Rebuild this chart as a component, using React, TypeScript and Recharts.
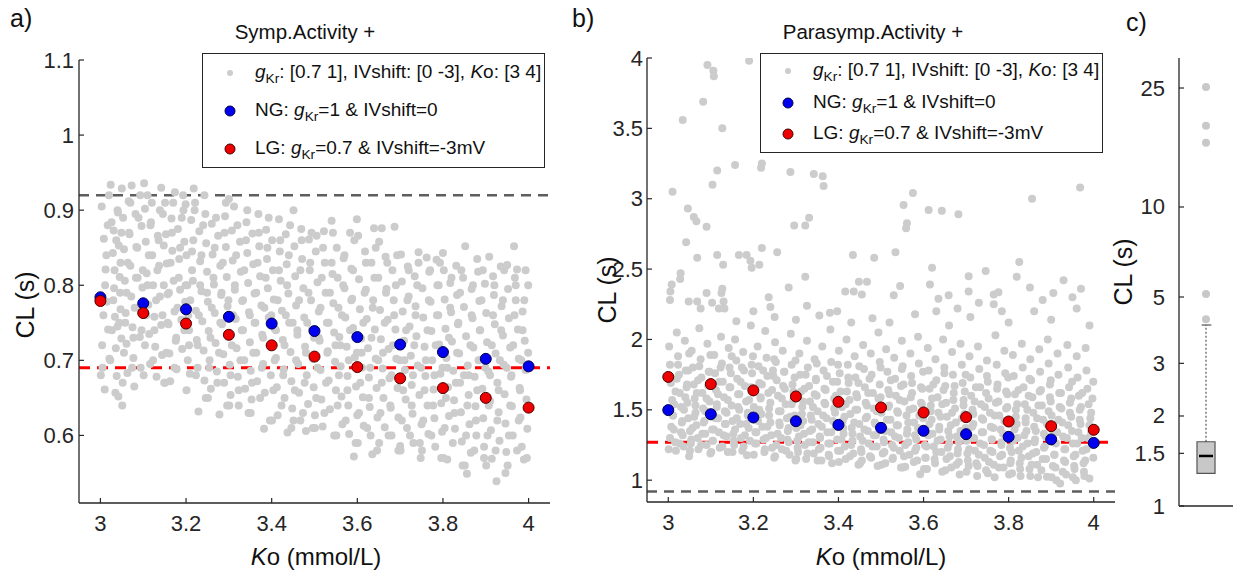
import React from 'react';
import { ScatterChart, Scatter, XAxis, YAxis, ReferenceLine, ReferenceArea } from 'recharts';

const FONT = '"Liberation Sans", Arial, Helvetica, sans-serif';
const AX = '#262626';

// ---------- data ----------
const koLevels = [3, 3.1, 3.2, 3.3, 3.4, 3.5, 3.6, 3.7, 3.8, 3.9, 4];
const ngSymp = [0.784, 0.776, 0.768, 0.758, 0.749, 0.739, 0.731, 0.721, 0.711, 0.702, 0.692];
const lgSymp = [0.779, 0.763, 0.749, 0.734, 0.72, 0.705, 0.691, 0.676, 0.663, 0.65, 0.637];
const ngPara = [1.498, 1.469, 1.446, 1.419, 1.393, 1.372, 1.351, 1.327, 1.308, 1.29, 1.265];
const lgPara = [1.734, 1.683, 1.638, 1.595, 1.557, 1.517, 1.481, 1.448, 1.417, 1.384, 1.358];

const sympUpperLine = 0.92;
const sympLowerLine = 0.69;
const paraUpperLine = 1.27;
const paraLowerLine = 0.92;

const xTicks = [3, 3.2, 3.4, 3.6, 3.8, 4];
const yTicksSymp = [0.6, 0.7, 0.8, 0.9, 1, 1.1];
const yTicksPara = [1, 1.5, 2, 2.5, 3, 3.5, 4];
const yTicksBox = [1, 1.5, 2, 3, 5, 10, 25];

const boxQ1 = 1.286;
const boxMedian = 1.47;
const boxQ3 = 1.64;
const boxWhiskerTop = 4.03;
const boxOutliers = [4.21, 5.12, 16.4, 18.7, 25.2];

const greySymp: [number, number][] = [
  [3.003,0.905],[3.008,0.862],[3.012,0.821],[3.015,0.778],[3.018,0.741],[3.021,0.702],[3.024,0.934],[3.026,0.884],[3.029,0.843],[3.032,0.796],[3.034,0.758],[3.036,0.716],[3.038,0.679],[3.041,0.897],[3.043,0.853],[3.045,0.811],[3.047,0.768],[3.049,0.729],[3.005,0.69],[3.01,0.661],[3.031,0.873],[3.04,0.745],[3.046,0.79],[3.035,0.657],[3.042,0.652],
  [3.05,0.929],[3.053,0.89],[3.055,0.848],[3.057,0.806],[3.059,0.763],[3.061,0.722],[3.063,0.683],[3.051,0.64],[3.066,0.912],[3.068,0.868],[3.07,0.826],[3.072,0.785],[3.073,0.933],[3.075,0.744],[3.077,0.703],[3.079,0.665],[3.082,0.895],[3.084,0.851],[3.087,0.81],[3.089,0.77],[3.092,0.731],[3.094,0.69],[3.096,0.879],[3.098,0.797],
  [3.102,0.936],[3.104,0.902],[3.106,0.858],[3.108,0.816],[3.11,0.92],[3.112,0.774],[3.114,0.735],[3.116,0.695],[3.118,0.884],[3.121,0.84],[3.123,0.8],[3.126,0.758],[3.128,0.718],[3.131,0.678],[3.134,0.866],[3.137,0.826],[3.139,0.785],[3.142,0.747],[3.144,0.707],[3.146,0.895],[3.148,0.853],[3.149,0.67],
  [3.151,0.91],[3.153,0.868],[3.155,0.829],[3.157,0.788],[3.159,0.748],[3.161,0.709],[3.163,0.672],[3.166,0.889],[3.168,0.846],[3.171,0.806],[3.173,0.765],[3.174,0.924],[3.176,0.726],[3.178,0.688],[3.181,0.875],[3.184,0.835],[3.186,0.794],[3.189,0.754],[3.191,0.715],[3.194,0.9],[3.196,0.858],[3.198,0.778],[3.199,0.908],
  [3.201,0.84],[3.203,0.8],[3.205,0.76],[3.207,0.72],[3.209,0.682],[3.212,0.887],[3.214,0.845],[3.216,0.806],[3.218,0.929],[3.221,0.91],[3.223,0.766],[3.225,0.727],[3.227,0.69],[3.229,0.632],[3.231,0.872],[3.233,0.832],[3.236,0.792],[3.238,0.752],[3.241,0.713],[3.243,0.673],[3.245,0.895],[3.247,0.856],[3.249,0.818],
  [3.251,0.778],[3.253,0.739],[3.255,0.7],[3.258,0.662],[3.26,0.882],[3.262,0.841],[3.265,0.801],[3.267,0.763],[3.269,0.723],[3.272,0.685],[3.275,0.866],[3.278,0.628],[3.28,0.826],[3.282,0.787],[3.284,0.748],[3.287,0.708],[3.289,0.67],[3.291,0.892],[3.293,0.851],[3.295,0.811],[3.297,0.772],[3.299,0.733],
  [3.3,0.915],[3.302,0.694],[3.304,0.654],[3.307,0.873],[3.309,0.833],[3.312,0.905],[3.314,0.794],[3.316,0.755],[3.318,0.716],[3.321,0.678],[3.323,0.64],[3.326,0.858],[3.328,0.818],[3.331,0.779],[3.333,0.74],[3.336,0.7],[3.338,0.662],[3.341,0.884],[3.343,0.843],[3.345,0.803],[3.347,0.764],[3.349,0.724],
  [3.351,0.686],[3.353,0.648],[3.355,0.869],[3.357,0.828],[3.36,0.789],[3.362,0.75],[3.364,0.71],[3.366,0.672],[3.369,0.895],[3.371,0.852],[3.373,0.812],[3.376,0.773],[3.378,0.734],[3.38,0.695],[3.382,0.609],[3.384,0.657],[3.387,0.874],[3.389,0.835],[3.391,0.796],[3.393,0.757],[3.396,0.718],[3.398,0.68],
  [3.401,0.86],[3.403,0.82],[3.405,0.781],[3.407,0.742],[3.41,0.703],[3.412,0.664],[3.414,0.627],[3.417,0.888],[3.419,0.845],[3.421,0.806],[3.424,0.766],[3.426,0.727],[3.428,0.688],[3.43,0.65],[3.433,0.868],[3.435,0.828],[3.437,0.604],[3.439,0.789],[3.441,0.75],[3.444,0.711],[3.446,0.672],[3.448,0.636],
  [3.451,0.9],[3.453,0.852],[3.455,0.812],[3.457,0.773],[3.46,0.734],[3.462,0.695],[3.464,0.657],[3.467,0.62],[3.469,0.875],[3.471,0.835],[3.474,0.796],[3.476,0.757],[3.478,0.718],[3.48,0.606],[3.482,0.68],[3.485,0.642],[3.487,0.861],[3.489,0.82],[3.492,0.78],[3.494,0.741],[3.496,0.702],[3.498,0.664],
  [3.501,0.627],[3.503,0.845],[3.505,0.866],[3.507,0.804],[3.51,0.765],[3.512,0.726],[3.514,0.687],[3.516,0.648],[3.519,0.612],[3.522,0.872],[3.524,0.83],[3.526,0.79],[3.529,0.75],[3.531,0.712],[3.533,0.673],[3.536,0.635],[3.54,0.886],[3.542,0.815],[3.544,0.776],[3.546,0.737],[3.548,0.698],[3.55,0.66],
  [3.552,0.85],[3.554,0.81],[3.556,0.77],[3.558,0.731],[3.561,0.692],[3.563,0.652],[3.565,0.615],[3.568,0.836],[3.57,0.796],[3.572,0.757],[3.575,0.718],[3.577,0.679],[3.579,0.64],[3.581,0.602],[3.583,0.87],[3.586,0.822],[3.588,0.782],[3.59,0.743],[3.592,0.572],[3.594,0.704],[3.597,0.665],[3.599,0.888],[3.6,0.627],
  [3.602,0.866],[3.604,0.808],[3.606,0.768],[3.609,0.729],[3.611,0.69],[3.613,0.651],[3.615,0.613],[3.618,0.845],[3.62,0.794],[3.622,0.755],[3.625,0.716],[3.627,0.677],[3.629,0.638],[3.631,0.6],[3.633,0.83],[3.635,0.575],[3.637,0.78],[3.639,0.876],[3.641,0.741],[3.643,0.702],[3.645,0.663],[3.647,0.624],[3.649,0.81],
  [3.651,0.858],[3.653,0.767],[3.655,0.728],[3.657,0.876],[3.659,0.689],[3.661,0.65],[3.664,0.611],[3.666,0.838],[3.668,0.795],[3.671,0.754],[3.673,0.715],[3.675,0.676],[3.678,0.637],[3.68,0.6],[3.682,0.82],[3.685,0.78],[3.687,0.878],[3.689,0.741],[3.691,0.702],[3.694,0.663],[3.696,0.624],[3.7,0.586],
  [3.702,0.841],[3.704,0.805],[3.706,0.765],[3.709,0.726],[3.711,0.687],[3.713,0.648],[3.716,0.61],[3.718,0.825],[3.72,0.785],[3.722,0.745],[3.725,0.706],[3.727,0.667],[3.729,0.629],[3.731,0.59],[3.734,0.812],[3.736,0.772],[3.738,0.732],[3.741,0.693],[3.743,0.844],[3.745,0.654],[3.748,0.57],[3.75,0.615],
  [3.752,0.796],[3.754,0.757],[3.757,0.718],[3.759,0.679],[3.762,0.837],[3.764,0.64],[3.766,0.602],[3.768,0.818],[3.771,0.778],[3.773,0.739],[3.775,0.7],[3.778,0.661],[3.78,0.623],[3.782,0.585],[3.785,0.834],[3.787,0.8],[3.789,0.76],[3.791,0.721],[3.794,0.682],[3.796,0.643],[3.798,0.605],[3.8,0.843],
  [3.802,0.82],[3.804,0.781],[3.806,0.742],[3.808,0.703],[3.81,0.568],[3.812,0.664],[3.814,0.626],[3.817,0.803],[3.819,0.764],[3.821,0.725],[3.824,0.686],[3.826,0.647],[3.828,0.609],[3.831,0.826],[3.833,0.787],[3.835,0.748],[3.838,0.709],[3.84,0.67],[3.842,0.631],[3.844,0.592],[3.847,0.81],[3.849,0.771],
  [3.852,0.852],[3.854,0.732],[3.856,0.549],[3.858,0.693],[3.86,0.654],[3.862,0.615],[3.865,0.577],[3.867,0.795],[3.869,0.756],[3.871,0.717],[3.874,0.678],[3.876,0.639],[3.878,0.6],[3.88,0.835],[3.882,0.818],[3.885,0.779],[3.887,0.74],[3.889,0.701],[3.892,0.662],[3.894,0.623],[3.896,0.585],[3.898,0.802],
  [3.901,0.763],[3.903,0.724],[3.906,0.685],[3.908,0.838],[3.91,0.646],[3.912,0.607],[3.914,0.569],[3.917,0.812],[3.919,0.787],[3.921,0.748],[3.923,0.709],[3.925,0.539],[3.927,0.67],[3.93,0.631],[3.932,0.593],[3.935,0.825],[3.937,0.772],[3.94,0.733],[3.942,0.694],[3.944,0.655],[3.946,0.616],[3.948,0.578],
  [3.95,0.827],[3.952,0.795],[3.954,0.756],[3.957,0.717],[3.959,0.678],[3.961,0.639],[3.963,0.6],[3.966,0.852],[3.968,0.81],[3.97,0.78],[3.973,0.821],[3.975,0.741],[3.977,0.702],[3.979,0.663],[3.981,0.624],[3.984,0.585],[3.986,0.765],[3.989,0.568],[3.991,0.726],[3.993,0.687],[3.995,0.648],[3.997,0.609],[3.999,0.8],
];

const greySympFill: [number, number][] = [
  [3.001,0.68],[3.004,0.72],[3.007,0.76],[3.011,0.8],[3.014,0.84],[3.017,0.88],[3.02,0.92],[3.023,0.7],[3.027,0.74],[3.03,0.78],[3.033,0.82],[3.037,0.86],[3.04,0.9],[3.044,0.75],[3.047,0.83],[3.049,0.87],
  [3.052,0.67],[3.055,0.71],[3.058,0.75],[3.061,0.79],[3.064,0.83],[3.067,0.87],[3.07,0.91],[3.074,0.69],[3.077,0.73],[3.08,0.77],[3.083,0.81],[3.086,0.85],[3.089,0.89],[3.093,0.92],[3.096,0.74],[3.099,0.82],
  [3.101,0.68],[3.104,0.72],[3.107,0.76],[3.11,0.8],[3.113,0.84],[3.117,0.88],[3.12,0.91],[3.123,0.7],[3.126,0.74],[3.13,0.78],[3.133,0.82],[3.136,0.86],[3.139,0.9],[3.142,0.93],[3.145,0.76],[3.148,0.8],
  [3.151,0.67],[3.154,0.71],[3.157,0.75],[3.16,0.79],[3.164,0.83],[3.167,0.87],[3.17,0.91],[3.173,0.69],[3.177,0.73],[3.18,0.77],[3.183,0.81],[3.186,0.85],[3.19,0.89],[3.193,0.92],[3.196,0.74],[3.199,0.8],
  [3.201,0.66],[3.204,0.7],[3.207,0.74],[3.21,0.78],[3.214,0.82],[3.217,0.86],[3.22,0.9],[3.223,0.68],[3.227,0.72],[3.23,0.76],[3.233,0.8],[3.236,0.84],[3.24,0.88],[3.243,0.92],[3.246,0.65],[3.249,0.79],
  [3.251,0.65],[3.254,0.69],[3.257,0.73],[3.26,0.77],[3.264,0.81],[3.267,0.85],[3.27,0.89],[3.273,0.67],[3.277,0.71],[3.28,0.75],[3.283,0.79],[3.286,0.83],[3.29,0.87],[3.293,0.91],[3.296,0.64],[3.299,0.78],
  [3.301,0.64],[3.304,0.68],[3.307,0.72],[3.31,0.76],[3.314,0.8],[3.317,0.84],[3.32,0.88],[3.323,0.66],[3.327,0.7],[3.33,0.74],[3.333,0.78],[3.336,0.82],[3.34,0.86],[3.343,0.9],[3.346,0.63],[3.349,0.76],
  [3.351,0.63],[3.354,0.67],[3.357,0.71],[3.36,0.75],[3.364,0.79],[3.367,0.83],[3.37,0.87],[3.373,0.65],[3.377,0.69],[3.38,0.73],[3.383,0.77],[3.386,0.81],[3.39,0.85],[3.393,0.89],[3.396,0.62],[3.399,0.76],
  [3.401,0.62],[3.404,0.66],[3.407,0.7],[3.41,0.74],[3.414,0.78],[3.417,0.82],[3.42,0.86],[3.423,0.64],[3.427,0.68],[3.43,0.72],[3.433,0.76],[3.436,0.8],[3.44,0.84],[3.443,0.88],[3.446,0.61],[3.449,0.75],
  [3.451,0.62],[3.454,0.66],[3.457,0.7],[3.46,0.74],[3.464,0.78],[3.467,0.82],[3.47,0.86],[3.473,0.63],[3.477,0.67],[3.48,0.71],[3.483,0.75],[3.486,0.79],[3.49,0.83],[3.493,0.87],[3.496,0.61],[3.499,0.73],
  [3.501,0.61],[3.504,0.65],[3.507,0.69],[3.51,0.73],[3.514,0.77],[3.517,0.81],[3.52,0.85],[3.523,0.63],[3.527,0.67],[3.53,0.71],[3.533,0.75],[3.536,0.79],[3.54,0.83],[3.543,0.87],[3.546,0.6],[3.549,0.72],
  [3.551,0.6],[3.554,0.64],[3.557,0.68],[3.56,0.72],[3.564,0.76],[3.567,0.8],[3.57,0.84],[3.573,0.62],[3.577,0.66],[3.58,0.7],[3.583,0.74],[3.586,0.78],[3.59,0.82],[3.593,0.86],[3.596,0.59],[3.599,0.71],
  [3.601,0.59],[3.604,0.63],[3.607,0.67],[3.61,0.71],[3.614,0.75],[3.617,0.79],[3.62,0.83],[3.623,0.61],[3.627,0.65],[3.63,0.69],[3.633,0.73],[3.636,0.77],[3.64,0.81],[3.643,0.85],[3.646,0.58],[3.649,0.7],
  [3.651,0.59],[3.654,0.63],[3.657,0.67],[3.66,0.71],[3.664,0.75],[3.667,0.79],[3.67,0.83],[3.673,0.6],[3.677,0.64],[3.68,0.68],[3.683,0.72],[3.686,0.76],[3.69,0.8],[3.693,0.84],[3.696,0.58],[3.699,0.7],
  [3.701,0.58],[3.704,0.62],[3.707,0.66],[3.71,0.7],[3.714,0.74],[3.717,0.78],[3.72,0.82],[3.723,0.6],[3.727,0.64],[3.73,0.68],[3.733,0.72],[3.736,0.76],[3.74,0.8],[3.743,0.83],[3.746,0.59],[3.749,0.69],
  [3.751,0.58],[3.754,0.62],[3.757,0.66],[3.76,0.7],[3.764,0.74],[3.767,0.78],[3.77,0.82],[3.773,0.6],[3.777,0.64],[3.78,0.68],[3.783,0.72],[3.786,0.76],[3.79,0.8],[3.793,0.83],[3.796,0.57],[3.799,0.69],
  [3.801,0.57],[3.804,0.61],[3.807,0.65],[3.81,0.69],[3.814,0.73],[3.817,0.77],[3.82,0.81],[3.823,0.59],[3.827,0.63],[3.83,0.67],[3.833,0.71],[3.836,0.75],[3.84,0.79],[3.843,0.82],[3.846,0.56],[3.849,0.68],
  [3.851,0.56],[3.854,0.6],[3.857,0.64],[3.86,0.68],[3.864,0.72],[3.867,0.76],[3.87,0.8],[3.873,0.58],[3.877,0.62],[3.88,0.66],[3.883,0.7],[3.886,0.74],[3.89,0.78],[3.893,0.82],[3.896,0.57],[3.899,0.69],
  [3.901,0.56],[3.904,0.6],[3.907,0.64],[3.91,0.68],[3.914,0.72],[3.917,0.76],[3.92,0.8],[3.923,0.58],[3.927,0.62],[3.93,0.66],[3.933,0.7],[3.936,0.74],[3.94,0.78],[3.943,0.82],[3.946,0.55],[3.949,0.69],
  [3.951,0.56],[3.954,0.6],[3.957,0.64],[3.96,0.68],[3.964,0.72],[3.967,0.76],[3.97,0.8],[3.973,0.58],[3.977,0.62],[3.98,0.66],[3.983,0.7],[3.986,0.74],[3.99,0.78],[3.993,0.82],[3.996,0.57],[3.999,0.71],
];

const greyParaBand: [number, number][] = [
  [3.002,1.95],[3.004,1.82],[3.006,1.69],[3.009,1.57],[3.011,1.46],[3.013,1.36],[3.016,1.27],[3.018,1.21],[3.02,2.05],[3.023,1.88],[3.025,1.75],[3.027,1.62],[3.03,1.52],[3.032,1.41],[3.034,1.32],[3.036,1.24],[3.039,1.99],[3.041,1.78],[3.043,1.66],[3.045,1.55],[3.047,1.44],[3.049,1.17],
  [3.051,1.35],[3.053,1.26],[3.055,1.92],[3.058,1.8],[3.06,1.68],[3.062,1.58],[3.064,1.48],[3.066,1.39],[3.069,1.3],[3.071,1.22],[3.073,2.08],[3.076,1.86],[3.078,1.73],[3.08,1.62],[3.082,1.51],[3.085,1.42],[3.087,1.33],[3.09,1.25],[3.092,1.97],[3.095,1.77],[3.097,1.56],[3.099,1.19],
  [3.101,1.45],[3.103,1.36],[3.105,1.28],[3.108,1.89],[3.11,1.76],[3.112,1.64],[3.114,1.54],[3.117,1.44],[3.119,1.34],[3.121,1.23],[3.124,2.02],[3.126,1.83],[3.128,1.7],[3.131,1.59],[3.133,1.49],[3.135,1.4],[3.137,1.31],[3.14,1.2],[3.142,1.94],[3.144,1.8],[3.146,1.66],[3.149,1.53],
  [3.151,1.42],[3.153,1.33],[3.155,1.25],[3.157,2.0],[3.16,1.85],[3.162,1.72],[3.164,1.61],[3.167,1.5],[3.169,1.4],[3.171,1.3],[3.174,1.21],[3.176,1.91],[3.178,1.78],[3.18,1.67],[3.183,1.56],[3.185,1.178],[3.187,1.46],[3.189,1.37],[3.192,1.28],[3.194,2.1],[3.196,1.82],[3.198,1.63],
  [3.201,1.52],[3.203,1.43],[3.205,1.34],[3.207,1.26],[3.21,1.95],[3.212,1.81],[3.214,1.69],[3.217,1.58],[3.219,1.47],[3.221,1.38],[3.224,1.29],[3.226,1.2],[3.228,2.06],[3.231,1.87],[3.233,1.74],[3.235,1.62],[3.237,1.51],[3.24,1.41],[3.242,1.32],[3.244,1.23],[3.246,1.78],[3.249,1.16],
  [3.251,1.98],[3.253,1.84],[3.255,1.71],[3.258,1.6],[3.26,1.49],[3.262,1.39],[3.265,1.3],[3.267,1.22],[3.269,1.92],[3.272,1.77],[3.274,1.65],[3.276,1.54],[3.279,1.44],[3.281,1.35],[3.283,1.27],[3.285,1.18],[3.288,2.04],[3.29,1.82],[3.292,1.68],[3.294,1.57],[3.297,1.46],[3.299,1.14],
  [3.301,1.37],[3.303,1.28],[3.305,1.2],[3.308,1.9],[3.31,1.75],[3.312,1.63],[3.315,1.52],[3.317,1.42],[3.319,1.33],[3.321,1.25],[3.324,1.15],[3.326,1.99],[3.328,1.8],[3.331,1.67],[3.333,1.56],[3.335,1.46],[3.338,1.36],[3.34,1.27],[3.342,1.19],[3.344,1.86],[3.347,1.72],[3.349,1.6],
  [3.351,1.49],[3.353,1.4],[3.356,1.31],[3.358,1.23],[3.36,1.14],[3.362,1.95],[3.365,1.78],[3.367,1.65],[3.369,1.54],[3.372,1.44],[3.374,1.34],[3.376,1.26],[3.378,1.17],[3.381,2.07],[3.383,1.84],[3.385,1.12],[3.387,1.7],[3.39,1.58],[3.392,1.48],[3.394,1.38],[3.397,1.29],[3.399,1.21],
  [3.401,1.92],[3.403,1.76],[3.405,1.63],[3.408,1.52],[3.41,1.42],[3.412,1.33],[3.415,1.24],[3.417,1.15],[3.419,2.0],[3.422,1.82],[3.424,1.69],[3.426,1.57],[3.428,1.47],[3.431,1.37],[3.433,1.28],[3.435,1.19],[3.438,1.88],[3.44,1.73],[3.442,1.61],[3.444,1.5],[3.447,1.11],[3.449,1.4],
  [3.451,1.31],[3.453,1.22],[3.455,1.14],[3.458,1.96],[3.46,1.79],[3.462,1.66],[3.464,1.55],[3.467,1.45],[3.469,1.35],[3.471,1.26],[3.474,1.17],[3.476,1.9],[3.478,1.75],[3.481,1.62],[3.483,1.51],[3.485,1.41],[3.488,1.32],[3.49,1.24],[3.492,1.1],[3.494,2.05],[3.497,1.84],[3.499,1.59],
  [3.501,1.48],[3.503,1.38],[3.506,1.29],[3.508,1.2],[3.51,1.12],[3.512,1.93],[3.515,1.77],[3.517,1.64],[3.519,1.53],[3.522,1.43],[3.524,1.34],[3.526,1.25],[3.528,1.16],[3.531,1.87],[3.533,1.72],[3.535,1.6],[3.538,1.49],[3.54,1.39],[3.542,1.3],[3.544,1.21],[3.547,1.09],[3.549,1.99],
  [3.551,1.81],[3.553,1.68],[3.555,1.56],[3.557,1.095],[3.56,1.46],[3.562,1.36],[3.564,1.27],[3.567,1.18],[3.569,1.9],[3.571,1.74],[3.573,1.62],[3.576,1.51],[3.578,1.41],[3.58,1.32],[3.583,1.23],[3.585,1.14],[3.587,2.02],[3.589,1.83],[3.592,1.043],[3.594,1.66],[3.596,1.54],[3.599,1.44],
  [3.601,1.34],[3.603,1.25],[3.605,1.16],[3.608,1.08],[3.61,1.94],[3.612,1.78],[3.614,1.65],[3.617,1.53],[3.619,1.43],[3.621,1.33],[3.624,1.24],[3.626,1.15],[3.628,1.86],[3.63,1.71],[3.633,1.59],[3.635,1.48],[3.637,1.38],[3.64,1.29],[3.642,1.2],[3.644,1.06],[3.646,2.0],[3.649,1.8],
  [3.651,1.67],[3.653,1.55],[3.655,1.45],[3.658,1.35],[3.66,1.26],[3.662,1.17],[3.665,1.09],[3.667,1.91],[3.669,1.75],[3.671,1.62],[3.674,1.51],[3.676,1.41],[3.678,1.31],[3.681,1.22],[3.683,1.13],[3.685,1.04],[3.687,1.97],[3.69,1.82],[3.692,1.69],[3.694,1.57],[3.696,1.47],[3.699,1.37],
  [3.701,1.28],[3.703,1.19],[3.706,1.1],[3.708,1.88],[3.71,1.73],[3.712,1.6],[3.715,1.5],[3.717,1.4],[3.719,1.3],[3.721,1.21],[3.724,1.12],[3.726,1.03],[3.728,1.95],[3.731,1.79],[3.733,1.66],[3.735,1.54],[3.737,1.44],[3.74,1.34],[3.742,1.25],[3.744,1.16],[3.747,1.07],[3.749,1.85],
  [3.751,1.7],[3.753,1.58],[3.756,1.48],[3.758,1.38],[3.76,1.29],[3.762,1.2],[3.765,1.11],[3.767,1.02],[3.769,2.03],[3.772,1.82],[3.774,1.68],[3.776,1.56],[3.778,1.46],[3.781,1.36],[3.783,1.27],[3.785,1.18],[3.788,1.09],[3.79,1.92],[3.792,1.76],[3.794,1.63],[3.797,1.52],[3.799,1.42],
  [3.801,1.32],[3.803,1.23],[3.805,1.14],[3.808,1.05],[3.81,1.89],[3.812,1.74],[3.815,1.61],[3.817,1.5],[3.819,1.4],[3.821,1.3],[3.824,1.21],[3.826,1.12],[3.828,1.03],[3.831,1.97],[3.833,1.8],[3.835,1.66],[3.838,1.54],[3.84,1.44],[3.842,1.35],[3.844,1.26],[3.847,1.17],[3.849,1.08],
  [3.851,1.86],[3.853,1.71],[3.856,1.59],[3.858,1.48],[3.86,1.38],[3.862,1.29],[3.865,1.2],[3.867,1.11],[3.869,1.02],[3.872,1.93],[3.874,1.77],[3.876,1.64],[3.878,1.53],[3.881,1.43],[3.883,1.33],[3.885,1.24],[3.888,1.15],[3.89,1.024],[3.892,2.0],[3.894,1.83],[3.897,1.68],[3.899,1.56],
  [3.901,1.46],[3.903,1.36],[3.906,1.27],[3.908,1.18],[3.91,1.09],[3.912,1.0],[3.915,1.9],[3.917,1.75],[3.919,1.62],[3.921,0.977],[3.924,1.51],[3.926,1.41],[3.928,1.31],[3.931,1.22],[3.933,1.13],[3.935,1.04],[3.938,1.96],[3.94,1.8],[3.942,1.66],[3.944,1.55],[3.947,1.45],[3.949,1.35],
  [3.951,1.26],[3.953,1.17],[3.955,1.08],[3.958,1.0],[3.96,1.88],[3.962,1.73],[3.965,1.6],[3.967,1.5],[3.969,1.4],[3.972,1.3],[3.974,1.21],[3.976,1.12],[3.978,1.03],[3.981,1.94],[3.983,1.78],[3.985,1.65],[3.988,1.54],[3.99,1.012],[3.992,1.44],[3.994,1.34],[3.997,1.25],[3.999,1.16],
];

const greyParaFill: [number, number][] = [
  [3.001,1.22],[3.004,1.3],[3.007,1.38],[3.011,1.46],[3.014,1.54],[3.017,1.63],[3.02,1.72],[3.023,1.82],[3.027,1.26],[3.03,1.34],[3.033,1.42],[3.037,1.5],[3.04,1.59],[3.044,1.68],[3.047,1.78],[3.049,1.9],
  [3.051,1.21],[3.054,1.29],[3.057,1.37],[3.061,1.45],[3.064,1.53],[3.067,1.62],[3.07,1.71],[3.073,1.81],[3.077,1.25],[3.08,1.33],[3.083,1.41],[3.087,1.49],[3.09,1.58],[3.094,1.67],[3.097,1.77],[3.099,1.89],
  [3.101,1.2],[3.104,1.28],[3.107,1.36],[3.111,1.44],[3.114,1.52],[3.117,1.61],[3.12,1.7],[3.123,1.8],[3.127,1.24],[3.13,1.32],[3.133,1.4],[3.137,1.48],[3.14,1.57],[3.144,1.66],[3.147,1.76],[3.149,1.88],
  [3.151,1.2],[3.154,1.28],[3.157,1.36],[3.161,1.44],[3.164,1.52],[3.167,1.61],[3.17,1.7],[3.173,1.8],[3.177,1.24],[3.18,1.32],[3.183,1.4],[3.187,1.48],[3.19,1.57],[3.194,1.66],[3.197,1.76],[3.199,1.88],
  [3.201,1.18],[3.204,1.26],[3.207,1.34],[3.211,1.42],[3.214,1.5],[3.217,1.59],[3.22,1.68],[3.223,1.78],[3.227,1.22],[3.23,1.3],[3.233,1.38],[3.237,1.46],[3.24,1.55],[3.244,1.64],[3.247,1.74],[3.249,1.86],
  [3.251,1.17],[3.254,1.25],[3.257,1.33],[3.261,1.41],[3.264,1.49],[3.267,1.58],[3.27,1.67],[3.273,1.77],[3.277,1.21],[3.28,1.29],[3.283,1.37],[3.287,1.45],[3.29,1.54],[3.294,1.63],[3.297,1.73],[3.299,1.85],
  [3.301,1.15],[3.304,1.23],[3.307,1.31],[3.311,1.39],[3.314,1.47],[3.317,1.56],[3.32,1.65],[3.323,1.75],[3.327,1.19],[3.33,1.27],[3.333,1.35],[3.337,1.43],[3.34,1.52],[3.344,1.61],[3.347,1.71],[3.349,1.83],
  [3.351,1.14],[3.354,1.22],[3.357,1.3],[3.361,1.38],[3.364,1.46],[3.367,1.55],[3.37,1.64],[3.373,1.74],[3.377,1.18],[3.38,1.26],[3.383,1.34],[3.387,1.42],[3.39,1.51],[3.394,1.6],[3.397,1.7],[3.399,1.82],
  [3.401,1.13],[3.404,1.21],[3.407,1.29],[3.411,1.37],[3.414,1.45],[3.417,1.54],[3.42,1.63],[3.423,1.73],[3.427,1.17],[3.43,1.25],[3.433,1.33],[3.437,1.41],[3.44,1.5],[3.444,1.59],[3.447,1.69],[3.449,1.81],
  [3.451,1.12],[3.454,1.2],[3.457,1.28],[3.461,1.36],[3.464,1.44],[3.467,1.53],[3.47,1.62],[3.473,1.72],[3.477,1.16],[3.48,1.24],[3.483,1.32],[3.487,1.4],[3.49,1.49],[3.494,1.58],[3.497,1.68],[3.499,1.8],
  [3.501,1.11],[3.504,1.19],[3.507,1.27],[3.511,1.35],[3.514,1.43],[3.517,1.52],[3.52,1.61],[3.523,1.71],[3.527,1.15],[3.53,1.23],[3.533,1.31],[3.537,1.39],[3.54,1.48],[3.544,1.57],[3.547,1.67],[3.549,1.79],
  [3.551,1.09],[3.554,1.17],[3.557,1.25],[3.561,1.33],[3.564,1.41],[3.567,1.5],[3.57,1.59],[3.573,1.69],[3.577,1.13],[3.58,1.21],[3.583,1.29],[3.587,1.37],[3.59,1.46],[3.594,1.55],[3.597,1.65],[3.599,1.77],
  [3.601,1.08],[3.604,1.16],[3.607,1.24],[3.611,1.32],[3.614,1.4],[3.617,1.49],[3.62,1.58],[3.623,1.68],[3.627,1.12],[3.63,1.2],[3.633,1.28],[3.637,1.36],[3.64,1.45],[3.644,1.54],[3.647,1.64],[3.649,1.76],
  [3.651,1.07],[3.654,1.15],[3.657,1.23],[3.661,1.31],[3.664,1.39],[3.667,1.48],[3.67,1.57],[3.673,1.67],[3.677,1.11],[3.68,1.19],[3.683,1.27],[3.687,1.35],[3.69,1.44],[3.694,1.53],[3.697,1.63],[3.699,1.75],
  [3.701,1.06],[3.704,1.14],[3.707,1.22],[3.711,1.3],[3.714,1.38],[3.717,1.47],[3.72,1.56],[3.723,1.66],[3.727,1.1],[3.73,1.18],[3.733,1.26],[3.737,1.34],[3.74,1.43],[3.744,1.52],[3.747,1.62],[3.749,1.74],
  [3.751,1.05],[3.754,1.13],[3.757,1.21],[3.761,1.29],[3.764,1.37],[3.767,1.46],[3.77,1.55],[3.773,1.65],[3.777,1.09],[3.78,1.17],[3.783,1.25],[3.787,1.33],[3.79,1.42],[3.794,1.51],[3.797,1.61],[3.799,1.73],
  [3.801,1.04],[3.804,1.12],[3.807,1.2],[3.811,1.28],[3.814,1.36],[3.817,1.45],[3.82,1.54],[3.823,1.64],[3.827,1.08],[3.83,1.16],[3.833,1.24],[3.837,1.32],[3.84,1.41],[3.844,1.5],[3.847,1.6],[3.849,1.72],
  [3.851,1.03],[3.854,1.11],[3.857,1.19],[3.861,1.27],[3.864,1.35],[3.867,1.44],[3.87,1.53],[3.873,1.63],[3.877,1.07],[3.88,1.15],[3.883,1.23],[3.887,1.31],[3.89,1.4],[3.894,1.49],[3.897,1.59],[3.899,1.71],
  [3.901,1.02],[3.904,1.1],[3.907,1.18],[3.911,1.26],[3.914,1.34],[3.917,1.43],[3.92,1.52],[3.923,1.62],[3.927,1.06],[3.93,1.14],[3.933,1.22],[3.937,1.3],[3.94,1.39],[3.944,1.48],[3.947,1.58],[3.949,1.7],
  [3.951,1.02],[3.954,1.1],[3.957,1.18],[3.961,1.26],[3.964,1.34],[3.967,1.43],[3.97,1.52],[3.973,1.62],[3.977,1.06],[3.98,1.14],[3.983,1.22],[3.987,1.3],[3.99,1.39],[3.994,1.48],[3.997,1.58],[3.999,1.7],
];

const greyParaHigh: [number, number][] = [
  [3.092,3.95],[3.106,3.91],[3.107,3.87],[3.19,3.98],[3.082,3.69],[3.034,3.56],[3.127,3.5],[3.157,3.24],[3.22,3.25],[3.218,3.22],[3.115,3.2],[3.287,3.19],[3.342,3.175],[3.363,3.16],[3.365,3.09],[3.104,3.1],[3.01,3.05],[3.046,2.93],[3.06,2.87],[3.066,2.84],[3.09,2.8],[3.296,2.81],[3.322,2.81],[3.331,2.865],[3.042,2.69],[3.553,2.955],[3.575,3.04],[3.561,2.825],[3.559,2.79],[3.612,2.92],[3.643,2.915],[3.682,2.89],[3.855,3.0],[3.968,3.08],
  [3.115,2.6],[3.129,2.53],[3.166,2.6],[3.184,2.6],[3.193,2.56],[3.196,2.51],[3.214,2.53],[3.22,2.65],[3.256,2.62],[3.068,2.58],[3.029,2.47],[3.434,2.6],[3.484,2.58],[3.534,2.62],[3.62,2.51],[3.746,2.486],[3.825,2.55],[3.819,2.445],[3.706,2.45],[3.929,2.42],[3.905,2.33],[3.322,2.445],[3.283,2.37],[3.448,2.41],[3.467,2.41],[3.416,2.34],[3.436,2.34],[3.455,2.32],[3.53,2.315],[3.545,2.38],[3.615,2.39],[3.635,2.29],[3.659,2.315],[3.706,2.34],[3.765,2.32],[3.776,2.335],[3.765,2.25],[3.784,2.2],
  [3.005,2.34],[3.008,2.39],[3.004,2.28],[3.028,2.43],[3.127,2.36],[3.125,2.33],[3.13,2.27],[3.132,2.22],[3.048,2.27],[3.068,2.27],[3.076,2.22],[3.09,2.33],[3.103,2.26],[3.119,2.22],[3.236,2.3],[3.24,2.23],[3.326,2.24],[3.355,2.17],[3.38,2.19],[3.397,2.2],
  [3.48,2.15],[3.52,2.12],[3.58,2.18],[3.66,2.1],[3.71,2.16],[3.8,2.12],[3.86,2.2],[3.9,2.14],[3.96,2.22],[3.99,2.1],[3.43,2.12],[3.3,2.14],[3.25,2.16],[3.16,2.13],[3.2,2.2],[3.63,2.2],[3.73,2.26],[3.88,2.28],[3.95,2.3],[3.97,2.36],[3.85,2.37],[3.68,2.22],
];

// ---------- derived series ----------
const toPts = (arr: [number, number][]) => arr.map(([x, y]) => ({ x, y }));
const levelPts = (vals: number[]) => vals.map((y, i) => ({ x: koLevels[i], y }));

const greyDot = (p: any) => <circle cx={p.cx} cy={p.cy} r={4} fill="#cccccc" />;
const blueDot = (p: any) => <circle cx={p.cx} cy={p.cy} r={5.5} fill="#0000ee" stroke="#00004d" strokeWidth={1} />;
const redDot = (p: any) => <circle cx={p.cx} cy={p.cy} r={5.5} fill="#ee0000" stroke="#4d0000" strokeWidth={1} />;
const outlierDot = (p: any) => <circle cx={p.cx} cy={p.cy} r={4} fill="#c8c8c8" />;

const TICK_FS = 22;

const makeYTick = (axisX: number) => (props: any) => {
  const { x, y, payload } = props;
  return (
    <g>
      <line x1={axisX} x2={axisX + 5} y1={y} y2={y} stroke={AX} strokeWidth={1.2} />
      <text x={x} y={y} textAnchor="end" dominantBaseline="central" fontSize={TICK_FS} fill={AX} fontFamily={FONT}>
        {String(payload.value)}
      </text>
    </g>
  );
};

const makeXTick = (axisY: number) => (props: any) => {
  const { x, y, payload } = props;
  return (
    <g>
      <line x1={x} x2={x} y1={axisY} y2={axisY - 5} stroke={AX} strokeWidth={1.2} />
      <text x={x} y={y} textAnchor="middle" dy="0.72em" fontSize={TICK_FS} fill={AX} fontFamily={FONT}>
        {String(payload.value)}
      </text>
    </g>
  );
};

const axisLine = { stroke: AX, strokeWidth: 1.3 };

const Sub = ({ children }: { children: React.ReactNode }) => (
  <span style={{ fontSize: '0.72em', position: 'relative', top: '0.35em' }}>{children}</span>
);

const LegendBox = ({ left, top, width, height, rows }: { left: number; top: number; width: number; height: number; rows: number[] }) => {
  const items = [
    { color: '#cccccc', stroke: 'none', r: 3, label: (<><i>g</i><Sub>Kr</Sub>: [0.7 1], IVshift: [0 -3], <i>K</i>o: [3 4]</>) },
    { color: '#0000ee', stroke: '#00004d', r: 5, label: (<>NG: <i>g</i><Sub>Kr</Sub>=1 &amp; IVshift=0</>) },
    { color: '#ee0000', stroke: '#4d0000', r: 5, label: (<>LG: <i>g</i><Sub>Kr</Sub>=0.7 &amp; IVshift=-3mV</>) },
  ];
  return (
    <div style={{ position: 'absolute', left, top, width, height, border: '1.5px solid #262626', background: '#fff', boxSizing: 'border-box' }}>
      {items.map((it, i) => (
        <React.Fragment key={i}>
          <svg style={{ position: 'absolute', left: 20, top: rows[i] - 7 }} width={14} height={14}>
            <circle cx={7} cy={7} r={it.r} fill={it.color} stroke={it.stroke} />
          </svg>
          <div style={{ position: 'absolute', left: 52, top: rows[i] - 12, fontSize: 19, lineHeight: '22px', whiteSpace: 'nowrap', color: '#111', fontFamily: FONT }}>
            {it.label}
          </div>
        </React.Fragment>
      ))}
    </div>
  );
};

const textStyle: React.CSSProperties = { position: 'absolute', fontFamily: FONT, color: '#111', whiteSpace: 'nowrap' };

export default function App() {
  return (
    <div style={{ position: 'absolute', left: 0, top: 0, width: 1235, height: 571, background: '#fff', fontFamily: FONT, overflow: 'hidden' }}>
      {/* Panel a */}
      <div style={{ position: 'absolute', left: 0, top: 0 }}>
        <ScatterChart width={560} height={571} margin={{ top: 60, right: 10, bottom: 8, left: 0 }}>
          <XAxis type="number" dataKey="x" domain={[2.95, 4.05]} ticks={xTicks} allowDataOverflow height={60} tickSize={0} tickMargin={12} tickLine={false} axisLine={axisLine} tick={makeXTick(503)} interval={0} />
          <YAxis type="number" dataKey="y" domain={[0.51, 1.1]} ticks={yTicksSymp} allowDataOverflow width={79} tickSize={0} tickMargin={5} tickLine={false} axisLine={axisLine} tick={makeYTick(79)} interval={0} />
          <Scatter data={toPts(greySympFill)} shape={greyDot} isAnimationActive={false} />
          <Scatter data={toPts(greySymp)} shape={greyDot} isAnimationActive={false} />
          <ReferenceLine y={sympUpperLine} stroke="#5e5e5e" strokeWidth={2.5} strokeDasharray="10 7" />
          <ReferenceLine y={sympLowerLine} stroke="#ff0000" strokeWidth={3} strokeDasharray="11 7" />
          <Scatter data={levelPts(ngSymp)} shape={blueDot} isAnimationActive={false} />
          <Scatter data={levelPts(lgSymp)} shape={redDot} isAnimationActive={false} />
        </ScatterChart>
      </div>

      {/* Panel b */}
      <div style={{ position: 'absolute', left: 560, top: 0 }}>
        <ScatterChart width={560} height={571} margin={{ top: 58, right: 5, bottom: 9, left: 0 }}>
          <XAxis type="number" dataKey="x" domain={[2.95, 4.05]} ticks={xTicks} allowDataOverflow height={60} tickSize={0} tickMargin={12} tickLine={false} axisLine={axisLine} tick={makeXTick(502)} interval={0} />
          <YAxis type="number" dataKey="y" domain={[0.845, 4]} ticks={yTicksPara} allowDataOverflow width={87} tickSize={0} tickMargin={4} tickLine={false} axisLine={axisLine} tick={makeYTick(87)} interval={0} />
          <Scatter data={toPts(greyParaFill)} shape={greyDot} isAnimationActive={false} />
          <Scatter data={toPts(greyParaBand)} shape={greyDot} isAnimationActive={false} />
          <Scatter data={toPts(greyParaHigh)} shape={greyDot} isAnimationActive={false} />
          <ReferenceLine y={paraUpperLine} stroke="#ff0000" strokeWidth={3} strokeDasharray="11 7" />
          <ReferenceLine y={paraLowerLine} stroke="#5e5e5e" strokeWidth={2.5} strokeDasharray="10 7" />
          <Scatter data={levelPts(lgPara)} shape={redDot} isAnimationActive={false} />
          <Scatter data={levelPts(ngPara)} shape={blueDot} isAnimationActive={false} />
        </ScatterChart>
      </div>

      {/* Panel c */}
      <div style={{ position: 'absolute', left: 1120, top: 0 }}>
        <ScatterChart width={115} height={571} margin={{ top: 58, right: 2, bottom: 64, left: 0 }}>
          <XAxis type="number" dataKey="x" domain={[0, 1]} allowDataOverflow height={1} tick={false} tickLine={false} axisLine={axisLine} />
          <YAxis type="number" dataKey="y" scale="log" domain={[1, 31.5]} ticks={yTicksBox} allowDataOverflow width={59} tickSize={0} tickMargin={14} tickLine={false} axisLine={axisLine} tick={makeYTick(59)} interval={0} />
          <ReferenceLine segment={[{ x: 0.5, y: boxQ3 }, { x: 0.5, y: boxWhiskerTop }]} stroke="#333" strokeWidth={1} strokeDasharray="2 2" />
          <ReferenceLine segment={[{ x: 0.42, y: boxWhiskerTop }, { x: 0.6, y: boxWhiskerTop }]} stroke="#333" strokeWidth={1} />
          <ReferenceArea x1={0.333} x2={0.667} y1={boxQ1} y2={boxQ3} fill="#c8c8c8" fillOpacity={1} stroke="#555" strokeWidth={1.2} />
          <ReferenceLine segment={[{ x: 0.37, y: boxMedian }, { x: 0.63, y: boxMedian }]} stroke="#000" strokeWidth={2.5} />
          <Scatter data={boxOutliers.map((y) => ({ x: 0.5, y }))} shape={outlierDot} isAnimationActive={false} />
        </ScatterChart>
      </div>

      {/* Panel labels */}
      <div style={{ ...textStyle, left: 10, top: 4, fontSize: 25 }}>a)</div>
      <div style={{ ...textStyle, left: 572, top: 4, fontSize: 25 }}>b)</div>
      <div style={{ ...textStyle, left: 1126, top: 8, fontSize: 25 }}>c)</div>

      {/* Titles */}
      <div style={{ ...textStyle, left: 305, top: 20, fontSize: 20.5, transform: 'translateX(-50%)' }}>Symp.Activity +</div>
      <div style={{ ...textStyle, left: 873, top: 20, fontSize: 20.5, transform: 'translateX(-50%)' }}>Parasymp.Activity +</div>

      {/* Axis labels */}
      <div style={{ ...textStyle, left: 25, top: 305, fontSize: 25, transform: 'translate(-50%, -50%) rotate(-90deg)' }}>CL (s)</div>
      <div style={{ ...textStyle, left: 607, top: 290, fontSize: 25, transform: 'translate(-50%, -50%) rotate(-90deg)' }}>CL (s)</div>
      <div style={{ ...textStyle, left: 1123, top: 272, fontSize: 25, transform: 'translate(-50%, -50%) rotate(-90deg)' }}>CL (s)</div>
      <div style={{ ...textStyle, left: 316, top: 557, fontSize: 24, transform: 'translate(-50%, -50%)' }}><i>K</i>o (mmol/L)</div>
      <div style={{ ...textStyle, left: 881, top: 557, fontSize: 24, transform: 'translate(-50%, -50%)' }}><i>K</i>o (mmol/L)</div>

      {/* Legends */}
      <LegendBox left={202} top={53} width={343} height={115} rows={[19, 57, 95]} />
      <LegendBox left={760} top={53} width={343} height={100} rows={[17, 49, 80]} />
    </div>
  );
}
